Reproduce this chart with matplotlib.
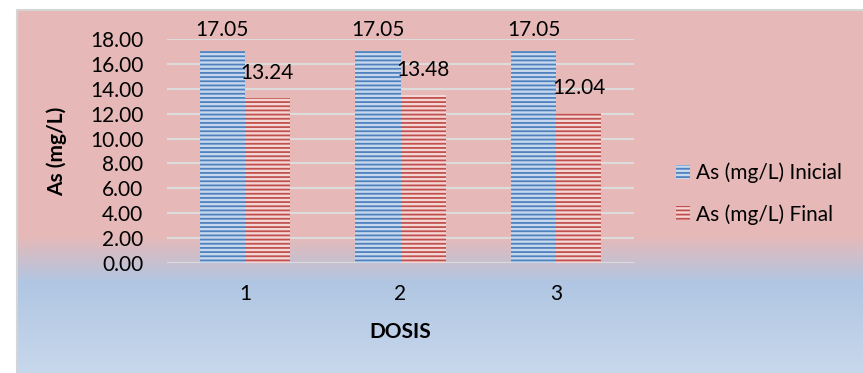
import numpy as np
import matplotlib.pyplot as plt
from matplotlib.ticker import FormatStrFormatter

plt.rcParams['font.family'] = ['Lato', 'DejaVu Sans']
plt.rcParams['hatch.linewidth'] = 1.3

dosis = [1, 2, 3]
inicial = [17.05, 17.05, 17.05]
final = [13.24, 13.48, 12.04]
series_names = ['As (mg/L) Inicial', 'As (mg/L) Final']

W, H = 863, 373
fs = 15
fig = plt.figure(figsize=(W / 100, H / 100), dpi=100)

# chart area background: pink on top fading into light blue
bg = fig.add_axes([17 / W, 0, 1 - 17 / W, (H - 10) / H])
bg.axis('off')
rows = np.arange(10, H)
stops_y = [10, 236, 282, 373]
stops_c = np.array([[230, 185, 184], [230, 185, 184], [176, 198, 226], [200, 216, 236]]) / 255
grad = np.stack([np.interp(rows, stops_y, stops_c[:, k]) for k in range(3)], axis=1)
bg.imshow(grad[:, None, :], aspect='auto', extent=[0, 1, 0, 1])
bg.set_xlim(0, 1)
bg.set_ylim(0, 1)
bg.plot([0, 0, 1], [0, 1, 1], color='#D5D5D5', lw=1.5, clip_on=False)

ax = fig.add_axes([167 / W, 1 - 263 / H, (634 - 167) / W, (263 - 39) / H])
ax.patch.set_alpha(0)

x = np.array(dosis)
bw = 0.29
b1 = ax.bar(x - bw / 2, inicial, bw, facecolor='#C6D8EE', edgecolor='#4F81BD',
            hatch='----', lw=0, label=series_names[0])
b2 = ax.bar(x + bw / 2, final, bw, facecolor='#F4D6D5', edgecolor='#C0504D',
            hatch='----', lw=0, label=series_names[1])

for xi, v in zip(x - bw / 2, inicial):
    ax.annotate(f'{v:.2f}', (xi, v), xytext=(0, 21), textcoords='offset pixels',
                ha='center', va='center', fontsize=fs)
for xi, v in zip(x + bw / 2, final):
    ax.annotate(f'{v:.2f}', (xi, v), xytext=(0, 25), textcoords='offset pixels',
                ha='center', va='center', fontsize=fs)

ax.set_xlim(0.5, 3.5)
ax.set_ylim(0, 18)
ax.set_yticks(np.arange(0, 19, 2))
ax.yaxis.set_major_formatter(FormatStrFormatter('%.2f'))
ax.set_xticks(x)
ax.tick_params(axis='y', length=0, pad=17, labelsize=fs)
ax.tick_params(axis='x', length=0, pad=15, labelsize=fs)
ax.yaxis.grid(True, color='#DCDCDC', lw=1.5)
ax.set_axisbelow(True)
for s in ax.spines.values():
    s.set_visible(False)
ax.axhline(0, color='#BFBFBF', lw=2.2, zorder=0.5)

ax.set_ylabel('As (mg/L)', fontsize=fs, fontweight='bold')
ax.yaxis.set_label_coords(-0.214, 0.5)
ax.set_xlabel('DOSIS', fontsize=fs, fontweight='bold', va='center')
ax.xaxis.set_label_coords(0.5, -0.308)

fig.legend(handles=[b1, b2], loc='center left', bbox_to_anchor=(676 / W, 1 - 193.5 / H),
           frameon=False, fontsize=fs, borderpad=0, borderaxespad=0,
           handlelength=0.68, handleheight=0.68, handletextpad=0.3, labelspacing=1.0)

fig.savefig('out.png', dpi=100)
